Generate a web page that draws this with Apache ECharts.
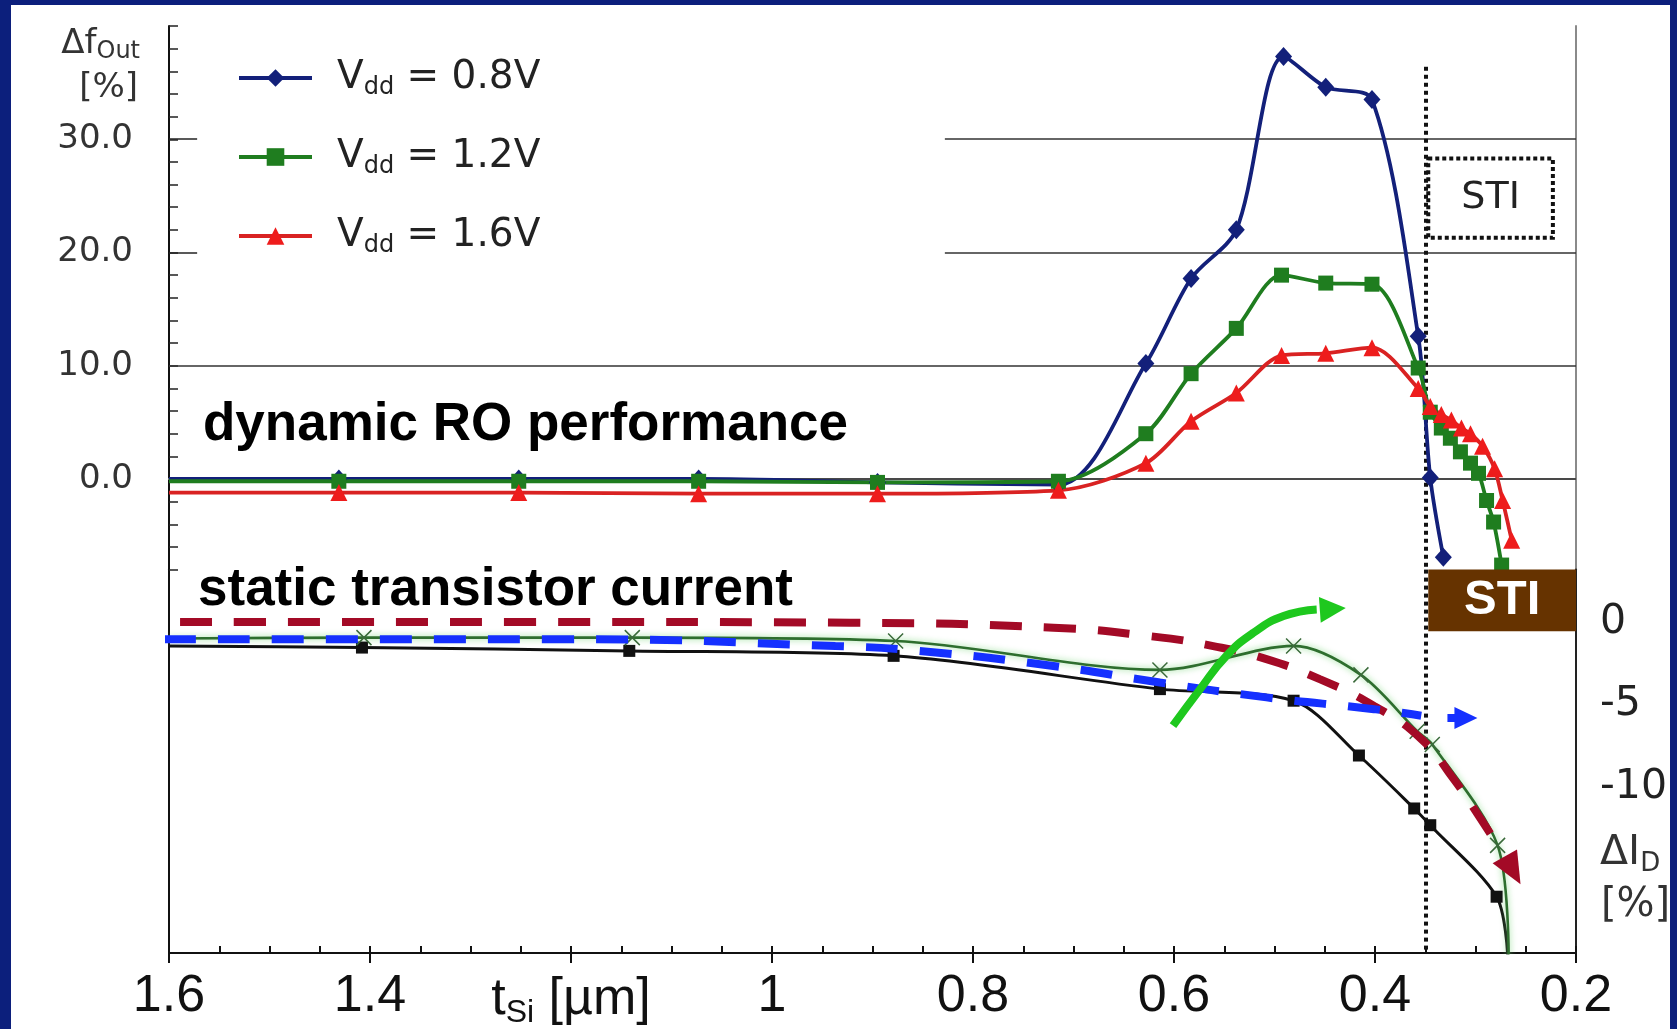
<!DOCTYPE html>
<html><head><meta charset="utf-8">
<script src="https://cdn.jsdelivr.net/npm/echarts/dist/echarts.min.js"></script>
<style>
html,body{margin:0;padding:0;background:#0c1f7c;overflow:hidden;width:1677px;height:1029px}
#frame{position:absolute;left:11px;top:5px;width:1659px;height:1024px;background:#fff}
#chart{position:absolute;left:0;top:0;width:1677px;height:1029px}
</style></head><body>
<div id="frame"></div><div id="chart"></div>
<script>
// ---------- DATA ----------
const seriesNames = ['Vdd = 0.8V', 'Vdd = 1.2V', 'Vdd = 1.6V'];
// dynamic RO performance, Δf_Out [%]
const blueX  = [1.60, 1.431, 1.252, 1.073, 0.895, 0.715, 0.628, 0.583, 0.538, 0.491, 0.449, 0.403, 0.357, 0.345, 0.332];
const blueY  = [0.0, 0.0, 0.0, 0.0, -0.3, -0.5, 10.2, 17.7, 22.0, 37.3, 34.6, 33.5, 12.6, 0.1, -6.9];
const greenX = [1.60, 1.431, 1.252, 1.073, 0.895, 0.715, 0.628, 0.583, 0.538, 0.493, 0.449, 0.403, 0.357, 0.345, 0.334, 0.325, 0.315, 0.305, 0.297, 0.289, 0.282, 0.274];
const greenY = [-0.2, -0.2, -0.2, -0.2, -0.3, -0.2, 4.0, 9.3, 13.3, 18.0, 17.3, 17.2, 9.8, 5.9, 4.5, 3.6, 2.4, 1.4, 0.5, -1.9, -3.8, -7.6];
const redX   = [1.60, 1.431, 1.252, 1.073, 0.895, 0.715, 0.628, 0.583, 0.538, 0.493, 0.449, 0.403, 0.357, 0.345, 0.334, 0.324, 0.314, 0.305, 0.293, 0.281, 0.273, 0.264];
const redY   = [-1.2, -1.2, -1.2, -1.3, -1.3, -1.0, 1.4, 5.1, 7.6, 10.9, 11.1, 11.6, 8.0, 6.4, 5.7, 5.2, 4.5, 4.0, 2.9, 0.9, -1.9, -5.4];
// static transistor current, ΔI_D [%]
const blackX = [1.60, 1.408, 1.142, 0.879, 0.614, 0.481, 0.416, 0.361, 0.345, 0.279, 0.268];
const blackY = [-1.45, -1.55, -1.75, -2.05, -4.06, -4.76, -8.07, -11.27, -12.28, -16.6, -20.1];
const crossX = [1.60, 1.406, 1.139, 0.877, 0.614, 0.481, 0.414, 0.358, 0.343, 0.278, 0.267];
const crossY = [-1.0, -0.95, -0.95, -1.15, -2.9, -1.45, -3.2, -6.6, -7.4, -13.5, -20.3];
// annotation trend arrows (bottom panel)
const redTrendX  = [1.589, 1.236, 0.922, 0.720, 0.624, 0.561, 0.508, 0.455, 0.401, 0.354, 0.322, 0.295, 0.274];
const redTrendY  = [0, 0, -0.05, -0.35, -0.86, -1.46, -2.25, -3.46, -5.07, -7.07, -9.47, -11.88, -13.88];
const redHead    = [0.263, -15.0];
const blueTrendX = [1.605, 1.2, 0.937, 0.853, 0.720, 0.614, 0.508, 0.401, 0.354];
const blueTrendY = [-1.05, -1.05, -1.46, -1.76, -2.66, -3.66, -4.56, -5.27, -5.67];
const blueHead   = [0.313, -5.81];
const greenTrendX = [0.601, 0.574, 0.548, 0.521, 0.491, 0.458];
const greenTrendY = [-6.27, -4.06, -2.06, -0.66, 0.35, 0.75];
const greenHead   = [0.442, 0.78];
// axes / reference values
const topGridValues = [10, 0];        // full-width grid lines
const topPartialGrid = [30, 20];      // grid lines right of legend
const bottomGridValues = [0, -5, -10, -15];
const rightLabels = [0, -5, -10];
const stiX = 0.35;

// ---------- helpers ----------
const pts = (xs, ys, hide) => xs.map((x, i) => hide.includes(i) ? {value: [x, ys[i]], symbol: 'none'} : [x, ys[i]]);
const line = (xs, ys) => xs.map((x, i) => [x, ys[i]]);
const DJ = 'DejaVu Sans', LS = 'Liberation Sans';

const chart = echarts.init(document.getElementById('chart'));
const option = {
  animation: false,
  backgroundColor: 'transparent',
  grid: [
    {left: 169, right: 101, top: 26, height: 543.6},
    {left: 169, right: 101, top: 569.6, height: 385.4}
  ],
  xAxis: [
    {gridIndex: 0, type: 'value', position: 'top', min: 0.2, max: 1.6, interval: 0.2, inverse: true,
      axisLine: {show: true, lineStyle: {color: '#8a8a8a', width: 2}}, axisTick: {show: false},
      axisLabel: {show: false}, splitLine: {show: false}},
    {gridIndex: 1, type: 'value', position: 'bottom', min: 0.2, max: 1.6, interval: 0.2, inverse: true,
      axisLine: {show: true, onZero: false, lineStyle: {color: '#111', width: 2}},
      axisTick: {show: true, inside: false, length: 10, lineStyle: {color: '#111', width: 2}},
      splitLine: {show: false},
      axisLabel: {margin: 18, color: '#111', fontFamily: LS, fontSize: 52,
        formatter: v => Math.abs(v - 1.2) < 1e-6 ? '{t|t}{s|Si}{t| [µm]}' : (Math.abs(v - 1) < 1e-6 ? '1' : v.toFixed(1)),
        rich: {t: {fontFamily: LS, fontSize: 52, color: '#111'}, s: {fontFamily: LS, fontSize: 32, color: '#111', padding: [26, 0, 0, 0]}}}},
    {gridIndex: 1, type: 'value', position: 'bottom', min: 0.2, max: 1.6, interval: 0.05, inverse: true,
      axisLine: {show: false, onZero: false}, axisLabel: {show: false}, splitLine: {show: false},
      axisTick: {show: true, inside: true, length: 7, lineStyle: {color: '#111', width: 2}}}
  ],
  yAxis: [
    {gridIndex: 0, type: 'value', position: 'left', min: -8, max: 40, interval: 2,
      axisLine: {show: true, onZero: false, lineStyle: {color: '#111', width: 2}},
      axisTick: {show: true, inside: true, length: 9, lineStyle: {color: '#222', width: 1.5}},
      splitLine: {show: false},
      axisLabel: {margin: 36, color: '#333', fontFamily: DJ, fontSize: 34,
        formatter: v => (v >= 0 && v <= 30 && v % 10 === 0) ? v.toFixed(1) : ''}},
    {gridIndex: 0, type: 'value', position: 'right', min: -8, max: 40, interval: 2,
      axisLine: {show: true, onZero: false, lineStyle: {color: '#8a8a8a', width: 2}},
      axisTick: {show: false}, axisLabel: {show: false}, splitLine: {show: false}},
    {gridIndex: 1, type: 'value', position: 'left', min: -20, max: 3.16, interval: 5,
      axisLine: {show: true, onZero: false, lineStyle: {color: '#111', width: 2}},
      axisTick: {show: false}, axisLabel: {show: false}, splitLine: {show: false}},
    {gridIndex: 1, type: 'value', position: 'right', min: -20, max: 3.16, interval: 5,
      axisLine: {show: true, onZero: false, lineStyle: {color: '#222', width: 2}},
      axisTick: {show: false}, splitLine: {show: false},
      axisLabel: {margin: 24, color: '#222', fontFamily: DJ, fontSize: 41,
        formatter: v => rightLabels.includes(v) ? String(v) : ''}}
  ],
  legend: {
    data: seriesNames, orient: 'vertical', left: 232, top: 51, itemGap: 35,
    itemWidth: 73, itemHeight: 22, selectedMode: false,
    lineStyle: {width: 4},
    formatter: n => n.replace('Vdd', 'V{sub|dd}'),
    textStyle: {fontFamily: DJ, fontSize: 39, color: '#222', lineHeight: 44, padding: [0, 0, 0, 20],
      rich: {sub: {fontFamily: DJ, fontSize: 24, color: '#222', lineHeight: 44, verticalAlign: 'bottom'}}}
  },
  graphic: [
    {type: 'text', x: 203, y: 425, silent: true, style: {text: 'dynamic RO performance', font: 'bold 53px "Liberation Sans"', fill: '#000', textVerticalAlign: 'middle'}},
    {type: 'text', x: 198, y: 590, silent: true, z: 10, style: {text: 'static transistor current', font: 'bold 53px "Liberation Sans"', fill: '#000', textVerticalAlign: 'middle'}},
    {type: 'text', x: 140, y: 44, silent: true, style: {text: 'Δf{s|Out}', font: '34px "DejaVu Sans"', fill: '#333', textAlign: 'right', textVerticalAlign: 'middle',
      rich: {s: {fontFamily: DJ, fontSize: 24, fill: '#333', padding: [16, 0, 0, 0]}}}},
    {type: 'text', x: 138, y: 88, silent: true, style: {text: '[%]', font: '34px "DejaVu Sans"', fill: '#333', textAlign: 'right', textVerticalAlign: 'middle'}},
    {type: 'text', x: 1600, y: 853, silent: true, style: {text: 'ΔI{s|D}', font: '41px "DejaVu Sans"', fill: '#333', textVerticalAlign: 'middle',
      rich: {s: {fontFamily: DJ, fontSize: 26, fill: '#333', padding: [22, 0, 0, 0]}}}},
    {type: 'text', x: 1601, y: 906, silent: true, style: {text: '[%]', font: '40px "DejaVu Sans"', fill: '#333', textVerticalAlign: 'middle'}}
  ],
  series: [
    // grid lines, ticks, STI line & box in the top panel
    {type: 'line', xAxisIndex: 0, yAxisIndex: 0, data: [], z: 1, clip: false, silent: true,
      markLine: {silent: true, symbol: ['none', 'none'], z: 1, label: {show: false},
        lineStyle: {color: '#333', width: 1.5, type: 'solid'},
        data: [
          ...topGridValues.map(v => [{coord: [1.6, v]}, {coord: [0.2, v]}]),
          ...topPartialGrid.map(v => [{coord: [0.828, v]}, {coord: [0.2, v]}]),
          ...topPartialGrid.map(v => [{coord: [1.6, v], lineStyle: {color: '#222', width: 1.5}}, {coord: [1.572, v]}])
        ]},
      markArea: {silent: true, z: 1,
        itemStyle: {color: '#fff', borderColor: '#111', borderWidth: 4, borderType: [4, 3]},
        label: {show: true, position: 'inside', color: '#222', fontFamily: DJ, fontSize: 38},
        data: [[{name: 'STI', coord: [0.347, 28.3]}, {coord: [0.223, 21.3]}]]}},
    {type: 'line', xAxisIndex: 0, yAxisIndex: 0, data: [], z: 3, silent: true,
      markLine: {silent: true, symbol: ['none', 'none'], z: 3, label: {show: false},
        lineStyle: {color: '#111', width: 4, type: [4, 4]},
        data: [[{coord: [stiX, 36.4]}, {coord: [stiX, -8]}]]}},
    // bottom panel grid lines (with outside tick stubs)
    {type: 'line', xAxisIndex: 1, yAxisIndex: 2, data: [], z: 1, clip: false, silent: true,
      markLine: {silent: true, symbol: ['none', 'none'], z: 1, label: {show: false},
        lineStyle: {color: '#1a1a1a', width: 2, type: 'solid'},
        data: bottomGridValues.map(v => [{coord: [1.611, v]}, {coord: [0.192, v]}])}},
    {type: 'line', xAxisIndex: 1, yAxisIndex: 2, data: [], z: 3, silent: true,
      markLine: {silent: true, symbol: ['none', 'none'], z: 3, label: {show: false},
        lineStyle: {color: '#111', width: 4, type: [4, 4]},
        data: [[{coord: [stiX, 3.16]}, {coord: [stiX, -20]}]]}},
    // top panel measured series
    {name: seriesNames[0], type: 'line', xAxisIndex: 0, yAxisIndex: 0, smooth: 0.3, z: 4,
      data: pts(blueX, blueY, [0]), symbol: 'diamond', symbolSize: [17, 19],
      lineStyle: {color: '#13207a', width: 3.8}, itemStyle: {color: '#13207a'}},
    {name: seriesNames[1], type: 'line', xAxisIndex: 0, yAxisIndex: 0, smooth: 0.3, z: 4,
      data: pts(greenX, greenY, [0]), symbol: 'rect', symbolSize: 15,
      lineStyle: {color: '#1f7d1f', width: 3.8}, itemStyle: {color: '#1f7d1f'}},
    {name: seriesNames[2], type: 'line', xAxisIndex: 0, yAxisIndex: 0, smooth: 0.3, z: 4,
      data: pts(redX, redY, [0]), symbol: 'triangle', symbolSize: 17,
      lineStyle: {color: '#d92222', width: 3.8}, itemStyle: {color: '#ee1c1c'}},
    // bottom panel measured series
    {name: 'ID1', type: 'line', xAxisIndex: 1, yAxisIndex: 2, smooth: 0.3, z: 4,
      data: pts(blackX, blackY, [0, blackX.length - 1]), symbol: 'rect', symbolSize: 12,
      lineStyle: {color: '#111', width: 3}, itemStyle: {color: '#111'}},
    {name: 'ID2', type: 'line', xAxisIndex: 1, yAxisIndex: 2, smooth: 0.3, z: 4,
      data: pts(crossX, crossY, [0, crossX.length - 1]),
      symbol: 'path://M0,0 L10,10 M10,0 L0,10', symbolSize: 15,
      lineStyle: {color: '#2e6e2e', width: 2.6, shadowColor: 'rgba(110,210,110,0.8)', shadowBlur: 6},
      itemStyle: {color: 'rgba(0,0,0,0)', borderColor: '#3a6a3a', borderWidth: 1.5}},
    // annotation arrows
    {name: 'trendRed', type: 'line', xAxisIndex: 1, yAxisIndex: 2, smooth: 0.5, z: 5, symbol: 'none', silent: true,
      data: line(redTrendX, redTrendY), lineStyle: {color: '#a30a26', width: 8, type: [32, 22], cap: 'butt'}},
    {name: 'trendBlue', type: 'line', xAxisIndex: 1, yAxisIndex: 2, smooth: 0.5, z: 5, symbol: 'none', silent: true,
      data: line(blueTrendX, blueTrendY), lineStyle: {color: '#1530ff', width: 8, type: [32, 22], cap: 'butt'}},
    {name: 'trendGreen', type: 'line', xAxisIndex: 1, yAxisIndex: 2, smooth: 0.5, z: 6, symbol: 'none', silent: true,
      data: line(greenTrendX, greenTrendY), lineStyle: {color: '#1ec81e', width: 8, cap: 'butt'}},
    {name: 'headRed', type: 'scatter', xAxisIndex: 1, yAxisIndex: 2, z: 5, silent: true,
      data: [redHead], symbol: 'triangle', symbolSize: [28, 32], symbolRotate: -150.6, itemStyle: {color: '#a30a26', opacity: 1}},
    {name: 'headBlue', type: 'scatter', xAxisIndex: 1, yAxisIndex: 2, z: 5, silent: true,
      data: [blueHead], symbol: 'path://M0,7 L7,7 L7,0 L30,11 L7,22 L7,15 L0,15 Z', symbolSize: [30, 22], itemStyle: {color: '#1530ff', opacity: 1}},
    {name: 'headGreen', type: 'scatter', xAxisIndex: 1, yAxisIndex: 2, z: 6, silent: true,
      data: [greenHead], symbol: 'triangle', symbolSize: [26, 26], symbolRotate: -86, itemStyle: {color: '#1ec81e', opacity: 1}},
    // brown STI label box
    {type: 'line', xAxisIndex: 1, yAxisIndex: 2, data: [], z: 20, clip: false, silent: true,
      markArea: {silent: true, z: 20, itemStyle: {color: '#663300', borderWidth: 0},
        label: {show: true, position: 'inside', color: '#fff', fontFamily: LS, fontWeight: 'bold', fontSize: 49},
        data: [[{name: 'STI', coord: [0.347, 3.16]}, {coord: [0.2, -0.57]}]]}}
  ]
};
chart.setOption(option);
</script>
</body></html>
